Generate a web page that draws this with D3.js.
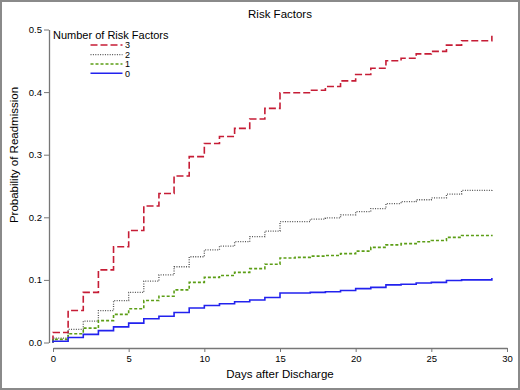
<!DOCTYPE html>
<html><head><meta charset="utf-8">
<script src="https://cdn.jsdelivr.net/npm/d3@7"></script>
<style>
html,body{margin:0;padding:0;background:#fff;}
text{font-family:"Liberation Sans",Arial,sans-serif;fill:#000;}
</style></head>
<body>
<svg id="chart" width="520" height="390"></svg>
<script>
const days = d3.range(0, 30);
const risk3 = [0.016,0.051,0.080,0.116,0.153,0.179,0.218,0.238,0.266,0.297,0.318,0.329,0.342,0.357,0.374,0.399,0.399,0.403,0.409,0.418,0.428,0.438,0.450,0.454,0.461,0.465,0.475,0.482,0.482,0.490];
const risk2 = [0.007,0.021,0.034,0.051,0.067,0.080,0.098,0.108,0.121,0.137,0.148,0.154,0.161,0.169,0.178,0.193,0.193,0.197,0.199,0.204,0.209,0.214,0.222,0.225,0.228,0.231,0.237,0.243,0.243,0.245];
const risk1 = [0.005,0.014,0.023,0.035,0.045,0.054,0.067,0.074,0.084,0.096,0.104,0.107,0.112,0.118,0.125,0.135,0.136,0.138,0.139,0.142,0.146,0.152,0.156,0.158,0.161,0.163,0.168,0.171,0.171,0.172];
const risk0 = [0.002,0.008,0.013,0.019,0.025,0.031,0.038,0.042,0.048,0.055,0.059,0.062,0.065,0.068,0.072,0.079,0.079,0.080,0.081,0.083,0.086,0.088,0.092,0.093,0.095,0.096,0.099,0.100,0.100,0.103];
const seriesNames = ["3","2","1","0"];
const xTicks = [0,5,10,15,20,25,30];
const yTicks = [0,0.1,0.2,0.3,0.4,0.5];

const series = [
  {name:"3", values:risk3, color:"#c61d36", dash:"7,3", width:1.6},
  {name:"2", values:risk2, color:"#555555", dash:"1,1.4", width:1.3},
  {name:"1", values:risk1, color:"#5c9e16", dash:"3,2", width:1.6},
  {name:"0", values:risk0, color:"#2222ee", dash:null, width:1.6}
];

const svg = d3.select("#chart");
svg.append("rect").attr("x",1).attr("y",1).attr("width",518).attr("height",388)
  .attr("fill","#fff").attr("stroke","#8a8a8a").attr("stroke-width",2);

const x = d3.scaleLinear().domain([0,30]).range([53,507]);
const y = d3.scaleLinear().domain([0,0.5]).range([342.5,29.5]);

// y axis
const yAxis = svg.append("g").attr("transform","translate(49,0)")
  .call(d3.axisLeft(y).tickValues(yTicks).tickFormat(d3.format(".1f")).tickSize(5).tickSizeOuter(0).tickPadding(2));
// x axis
const xAxis = svg.append("g").attr("transform","translate(0,348)")
  .call(d3.axisBottom(x).tickValues(xTicks).tickFormat(d3.format("d")).tickSize(4).tickSizeOuter(0).tickPadding(3));
[yAxis,xAxis].forEach(g=>{
  g.select(".domain").attr("stroke","#777").attr("stroke-width",1.3);
  g.selectAll(".tick line").attr("stroke","#777");
  g.selectAll(".tick text").style("font-family","'Liberation Sans',Arial,sans-serif").style("font-size","9.5px").attr("fill","#111");
});

// lines
const line = d3.line().x(d=>x(d[0])).y(d=>y(d[1])).curve(d3.curveStepAfter);
series.forEach(s=>{
  const pts = [[0,0]].concat(days.map((d,i)=>[d, s.values[i]]));
  const p = svg.append("path").datum(pts).attr("d",line)
    .attr("fill","none").attr("stroke",s.color).attr("stroke-width",s.width);
  if (s.dash) p.attr("stroke-dasharray",s.dash);
});

// titles
svg.append("text").attr("x",280).attr("y",18).attr("text-anchor","middle")
  .style("font-size","11.5px").text("Risk Factors");
svg.append("text").attr("x",280).attr("y",378).attr("text-anchor","middle")
  .style("font-size","11.5px").text("Days after Discharge");
svg.append("text").attr("transform","translate(18,155) rotate(-90)").attr("text-anchor","middle")
  .style("font-size","11.5px").text("Probability of Readmission");

// legend
const leg = svg.append("g");
leg.append("text").attr("x",53).attr("y",39).style("font-size","11px").text("Number of Risk Factors");
const rowY = [45,54.7,64,73.3];
series.forEach((s,i)=>{
  const l = leg.append("line").attr("x1",90.5).attr("x2",122.5).attr("y1",rowY[i]).attr("y2",rowY[i])
    .attr("stroke",s.color).attr("stroke-width",s.width);
  if (s.dash) l.attr("stroke-dasharray",s.dash);
  leg.append("text").attr("x",125).attr("y",rowY[i]+3.3).style("font-size","9px").text(seriesNames[i]);
});
</script>
</body></html>
